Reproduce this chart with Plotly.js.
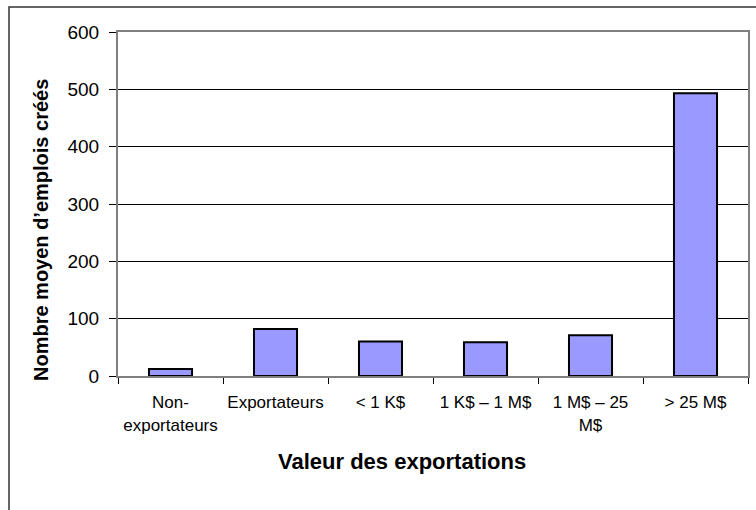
<!DOCTYPE html>
<html>
<head>
<meta charset="utf-8">
<script src="https://cdn.plot.ly/plotly-3.0.1.min.js"></script>
<style>html,body{margin:0;padding:0;background:#fff;}#chart{width:756px;height:510px;}</style>
</head>
<body>
<div id="chart"></div>
<script>
const categories = ["Non-<br>exportateurs", "Exportateurs", "< 1 K$", "1 K$ – 1 M$", "1 M$ – 25<br>M$", "> 25 M$"];
const values = [12, 82, 60, 59, 71, 493];
const yTicks = [0, 100, 200, 300, 400, 500, 600];
const xTitle = "Valeur des exportations";
const yTitle = "Nombre moyen d’emplois créés";

const font = "'Liberation Sans', Arial, sans-serif";
const L = 118, R = 8, T = 32, B = 134, W = 756, H = 510;
const pw = W - L - R, ph = H - T - B;
const px = x => (x - L) / pw;
const py = y => (H - B - y) / ph;

const trace = {
  type: "bar",
  x: categories,
  y: values,
  width: 0.41,
  marker: {color: "#9999ff", line: {color: "#000000", width: 2}},
  hoverinfo: "none"
};

const layout = {
  width: W, height: H,
  margin: {l: L, r: R, t: T, b: B, pad: 0},
  paper_bgcolor: "#ffffff",
  plot_bgcolor: "#ffffff",
  showlegend: false,
  font: {family: font, color: "#000000"},
  xaxis: {
    type: "category",
    tickson: "boundaries",
    ticks: "outside", ticklen: 6, tickcolor: "#000000", tickwidth: 1,
    showline: true, linecolor: "#808080", linewidth: 2, mirror: true,
    showgrid: false, zeroline: false,
    tickfont: {family: font, size: 17, color: "#000000"},
    ticklabelstandoff: 10,
    tickangle: 0,
    fixedrange: true
  },
  yaxis: {
    range: [0, 600],
    tickvals: yTicks,
    ticktext: yTicks.map(String),
    ticks: "outside", ticklen: 7, tickcolor: "#000000", tickwidth: 1,
    showline: true, linecolor: "#808080", linewidth: 2, mirror: true,
    showgrid: true, gridcolor: "#000000", gridwidth: 1,
    zeroline: false,
    tickfont: {family: font, size: 19, color: "#000000"},
    ticklabelstandoff: 6,
    fixedrange: true
  },
  annotations: [
    {text: "<b>" + xTitle + "</b>", xref: "paper", yref: "paper",
     x: px(276), y: py(461), showarrow: false, xanchor: "left", yanchor: "middle",
     font: {family: font, size: 22, color: "#000000"}},
    {text: "<b>" + yTitle + "</b>", xref: "paper", yref: "paper",
     x: px(41), y: py(230), showarrow: false, xanchor: "center", yanchor: "middle",
     textangle: -90,
     font: {family: font, size: 20, color: "#000000"}}
  ],
  shapes: [
    {type: "rect", xref: "paper", yref: "paper",
     x0: px(9), x1: px(780), y0: py(540), y1: py(7),
     line: {color: "#333333", width: 1.5}, fillcolor: "rgba(0,0,0,0)", layer: "below"}
  ]
};

Plotly.newPlot("chart", [trace], layout, {displayModeBar: false, staticPlot: true});
</script>
</body>
</html>
